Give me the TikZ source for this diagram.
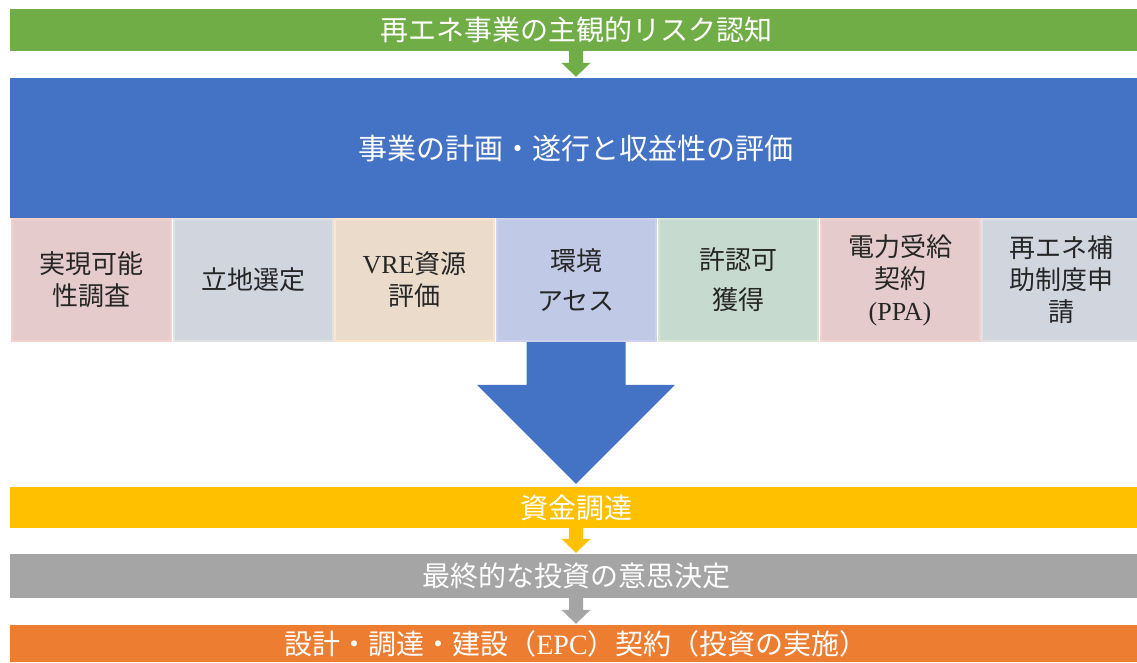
\documentclass[tikz,border=0pt]{standalone}
\usepackage{fontspec}
\newfontfamily\jp{Noto Sans CJK JP}
\newfontfamily\lat{Liberation Serif}
\usetikzlibrary{calc}
\definecolor{cgreen}{HTML}{70AD47}
\definecolor{cblue}{HTML}{4472C4}
\definecolor{cyellow}{HTML}{FFC000}
\definecolor{cgray}{HTML}{A5A5A5}
\definecolor{corange}{HTML}{ED7D31}
\definecolor{ctext}{HTML}{262626}
\definecolor{pinkF}{HTML}{E5CBCC}\definecolor{pinkB}{HTML}{F6D2CF}
\definecolor{greyF}{HTML}{D1D5DE}\definecolor{greyB}{HTML}{E2E2E2}
\definecolor{tanF}{HTML}{EBDBCB}\definecolor{tanB}{HTML}{FDE5C9}
\definecolor{lavF}{HTML}{C0C9E5}\definecolor{lavB}{HTML}{CDD3EC}
\definecolor{mintF}{HTML}{C6DACF}\definecolor{mintB}{HTML}{D5E6D3}
\newcommand\blockarrowdown[3]{%
  \fill[#3] let \p1=($(#1.south)+(0,0)$), \p2=($(#2.north)+(0,0)$) in
    (\x1-7pt,\y1) -- (\x1+7pt,\y1) -- (\x1+7pt,\y2+15pt) -- (\x1+14.5pt,\y2+15pt)
    -- (\x1,\y2+1pt) -- (\x1-14.5pt,\y2+15pt) -- (\x1-7pt,\y2+15pt) -- cycle;}
\begin{document}
\begin{tikzpicture}[x=1pt,y=-1pt,
  bar/.style={draw=none, inner sep=0pt, minimum width=1132pt, text=white,
    font=\jp\fontsize{28}{34}\selectfont},
  sub/.style={line width=2pt, inner sep=0pt, minimum width=159pt, minimum height=122pt,
    align=center, text=ctext, font=\jp\fontsize{26}{32}\selectfont}]
\useasboundingbox (0,0) rectangle (1137,662);
\fill[white] (0,0) rectangle (1137,662);
\node[bar, fill=cgreen, minimum height=42pt] (risk) at (576,30) {再エネ事業の主観的リスク認知};
\node[bar, fill=cblue, minimum height=140pt, font=\jp\fontsize{29}{34}\selectfont] (plan) at (576,148) {事業の計画・遂行と収益性の評価};
\node[bar, fill=cyellow, minimum height=41pt] (fund) at (576,507.5) {資金調達};
\node[bar, fill=cgray, minimum height=44pt] (fid) at (576,576) {最終的な投資の意思決定};
\node[bar, fill=corange, minimum height=37pt] (epc) at (576,643.5) {設計・調達・建設（{\lat EPC}）契約（投資の実施）};
% sub boxes
\node[sub, fill=pinkF, draw=pinkB] (b1) at (91,280) {実現可能\\性調査};
\node[sub, fill=greyF, draw=greyB] (b2) at (253,280) {立地選定};
\node[sub, fill=tanF, draw=tanB] (b3) at (414.5,280) {{\lat VRE}資源\\評価};
\node[sub, fill=lavF, draw=lavB] (b4) at (576,280) {環境\\[8pt]アセス};
\node[sub, fill=mintF, draw=mintB] (b5) at (738,280) {許認可\\[8pt]獲得};
\node[sub, fill=pinkF, draw=pinkB] (b6) at (900,280) {電力受給\\契約\\{\lat (PPA)}};
\node[sub, fill=greyF, draw=greyB] (b7) at (1061.5,280) {再エネ補\\助制度申\\請};
% small arrows
\blockarrowdown{risk}{plan}{cgreen}
\blockarrowdown{fund}{fid}{cyellow}
\blockarrowdown{fid}{epc}{cgray}
% big arrow
\fill[cblue] let \p1=(b4.south), \p2=(fund.north) in
  (\x1-49.5pt,\y1) -- (\x1+49.5pt,\y1) -- (\x1+49.5pt,\y2+102pt) -- (\x1+99pt,\y2+102pt)
  -- (\x1,\y2+3pt) -- (\x1-99pt,\y2+102pt) -- (\x1-49.5pt,\y2+102pt) -- cycle;
\end{tikzpicture}
\end{document}
